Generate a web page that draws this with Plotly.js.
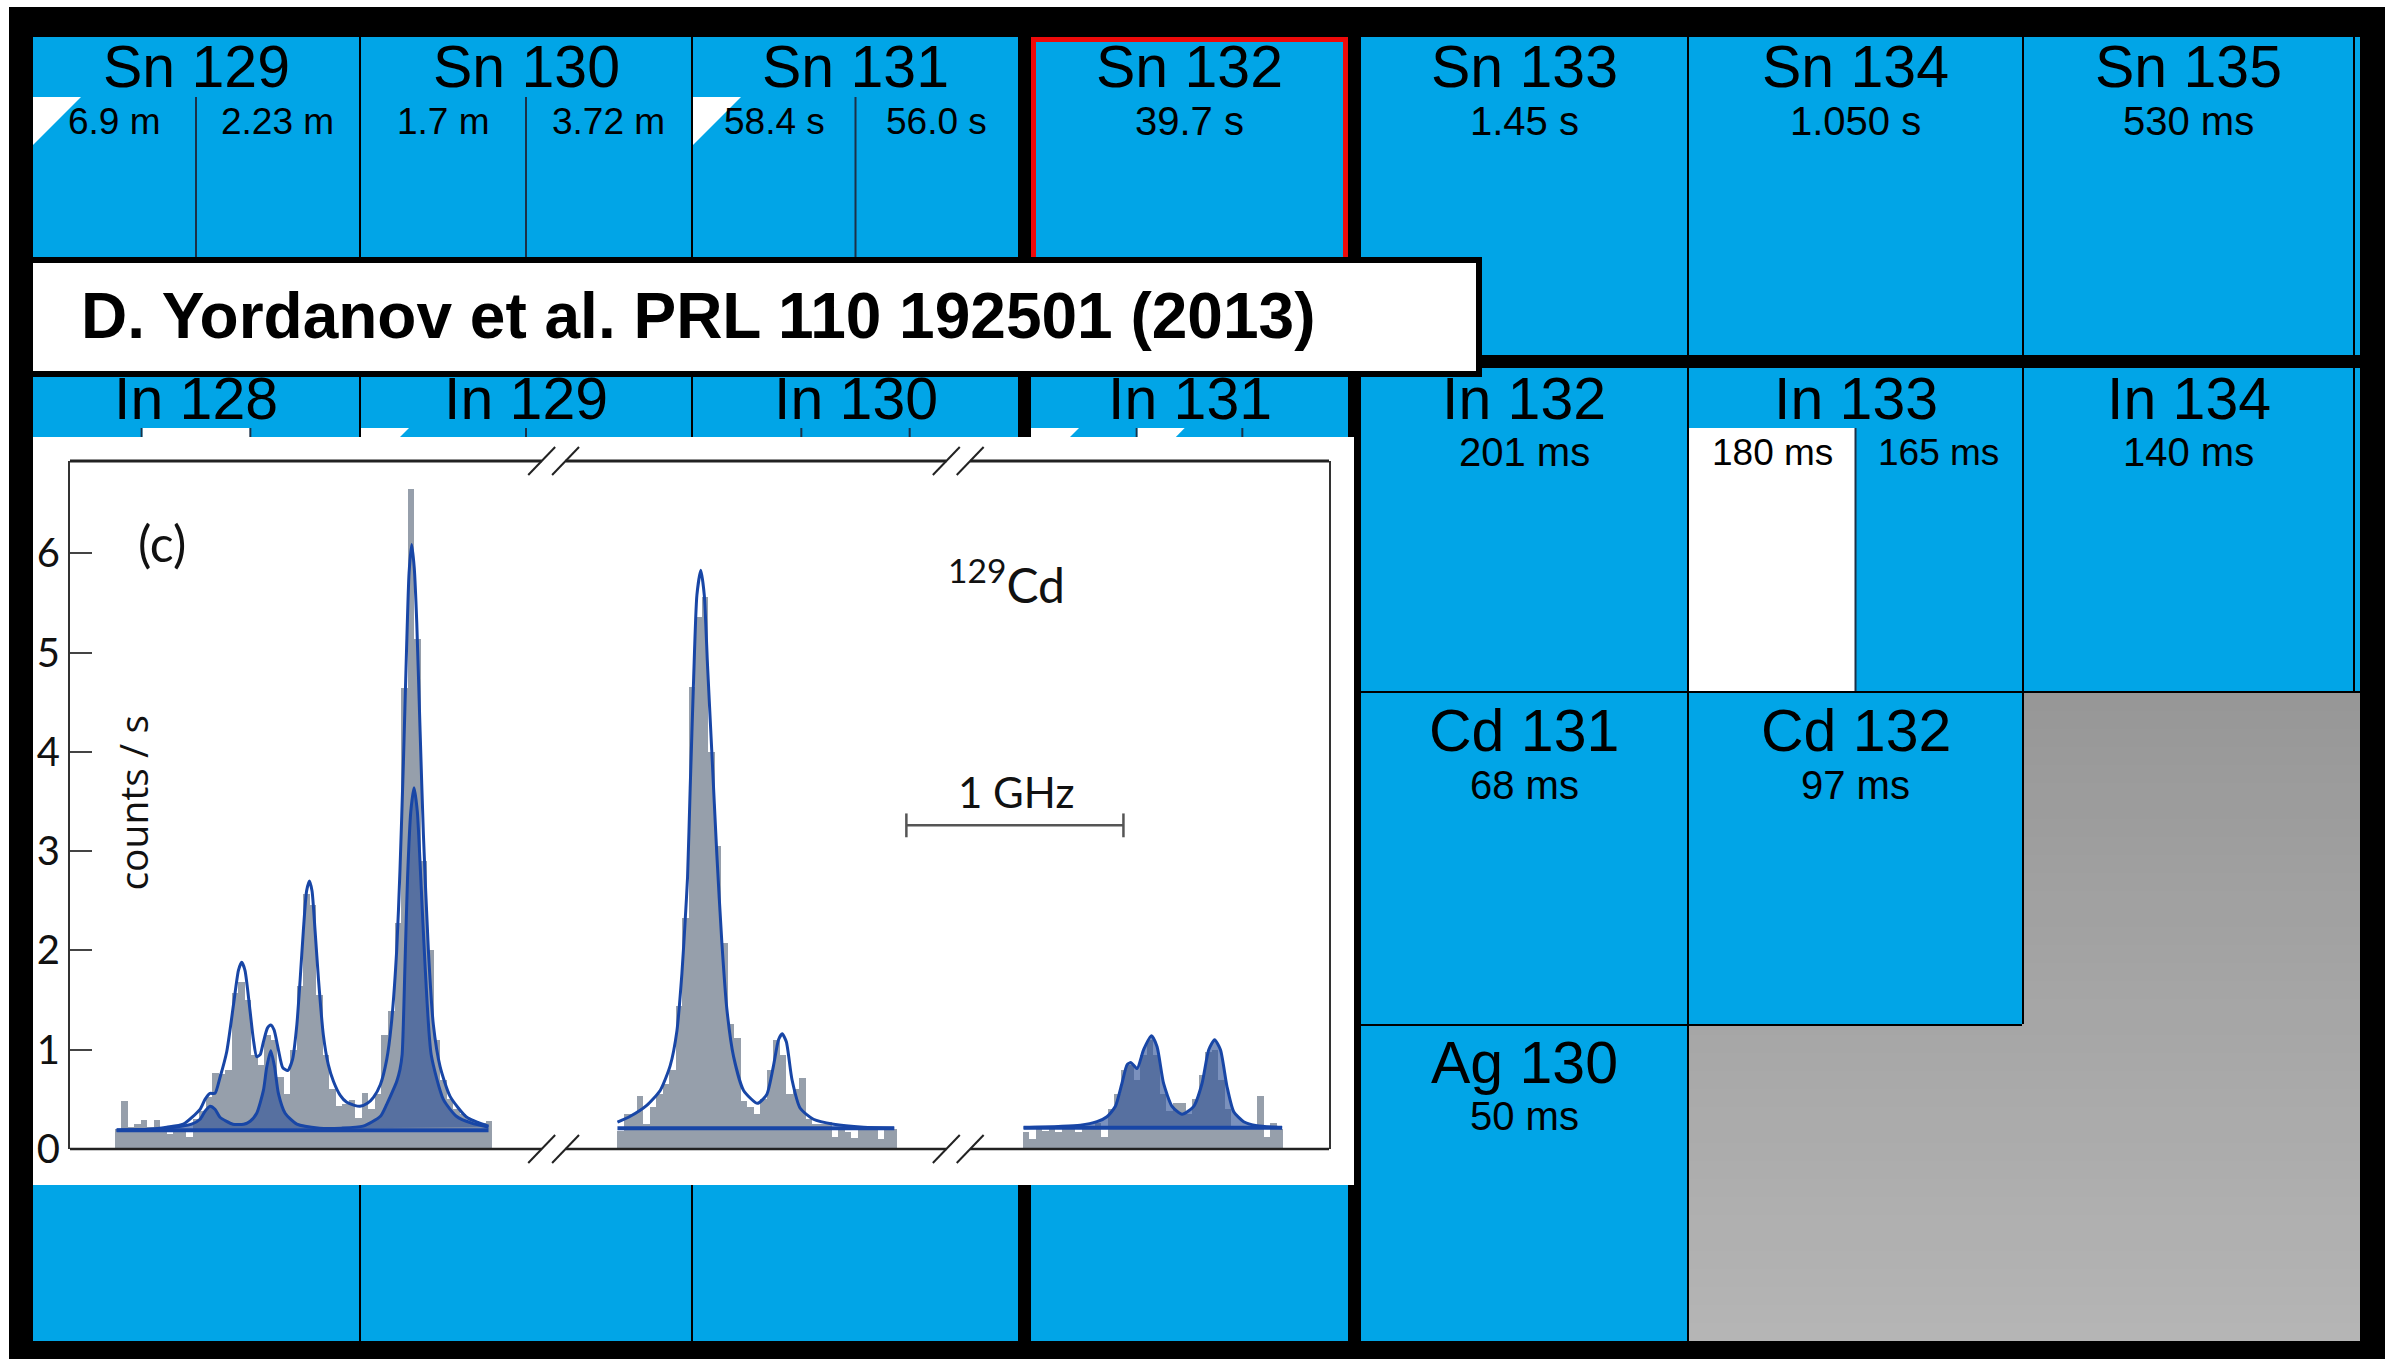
<!DOCTYPE html>
<html><head><meta charset="utf-8">
<script src="https://cdn.plot.ly/plotly-3.0.1.min.js"></script>
<style>html,body{margin:0;padding:0;background:#fff;overflow:hidden}#chart{width:2385px;height:1359px}</style>
</head><body><div id="chart"></div>
<script>
// ---------------- nuclide chart data ----------------
const nuclides  = ['Sn 129','Sn 130','Sn 131','Sn 132','Sn 133','Sn 134','Sn 135','In 128','In 129','In 130','In 131','In 132','In 133','In 134','Cd 131','Cd 132','Ag 130'];
const nuclideN  = [79,80,81,82,83,84,85, 79,80,81,82,83,84,85, 83,84, 83];
const nuclideZ  = [50,50,50,50,50,50,50, 49,49,49,49,49,49,49, 48,48, 47];
const halfLives = [['6.9 m','2.23 m'],['1.7 m','3.72 m'],['58.4 s','56.0 s'],['39.7 s'],['1.45 s'],['1.050 s'],['530 ms'],
                   [],[],[],[],['201 ms'],['180 ms','165 ms'],['140 ms'],['68 ms'],['97 ms'],['50 ms']];
const stateMarks = [['tri',''],['',''],['tri',''],[''],[''],[''],[''],
                    ['','white',''],['tri',''],['','',''],['tri','tri',''],[''],['white',''],[''],[''],[''],['']];
const highlighted = ['Sn 132'];
const unknownCells = [[48,85],[48,86],[47,84],[47,85],[47,86]]; // [Z,N]
const referenceText = 'D. Yordanov et al. PRL 110 192501 (2013)';

// ---------------- spectrum data (x in GHz, y in counts/s) ----------------
const histBinWidth = 0.03;
const histStart = [0.205, 2.52, 4.39];
const histSeg1 = [0.20,0.48,0.22,0.25,0.29,0.22,0.29,0.20,0.15,0.20,0.19,0.12,0.30,0.38,0.52,0.77,0.76,0.80,1.57,1.68,
                  1.50,0.95,0.85,1.15,1.10,0.73,0.55,1.00,1.64,2.57,2.46,1.55,0.95,0.60,0.43,0.45,0.49,0.31,0.56,0.40,
                  0.55,1.15,1.39,2.28,4.64,6.65,5.14,2.90,2.00,1.10,0.70,0.50,0.40,0.35,0.30,0.28,0.26,0.28];
const histSeg2 = [0.18,0.35,0.35,0.53,0.25,0.42,0.55,0.65,0.80,1.44,2.33,4.65,5.36,5.56,4.00,3.05,2.08,1.26,1.12,0.48,
                  0.42,0.35,0.50,0.80,1.10,0.95,0.55,0.60,0.72,0.30,0.25,0.25,0.27,0.12,0.20,0.17,0.11,0.20,0.19,0.20,
                  0.10,0.20,0.20];
const histSeg3 = [0.17,0.10,0.20,0.18,0.20,0.17,0.20,0.20,0.17,0.22,0.22,0.26,0.12,0.40,0.55,0.80,0.85,0.70,0.95,1.10,
                  0.95,0.55,0.38,0.46,0.46,0.35,0.50,0.75,0.98,1.00,0.70,0.40,0.20,0.22,0.20,0.20,0.53,0.12,0.26,0.20];

const totalX1 = [0.215,0.369,0.4455,0.522,0.599,0.622,0.645,0.668,0.691,0.722,0.753,0.776,0.791,0.806,0.829,0.845,0.860,0.876,0.891,0.910,
                 0.925,0.940,0.960,0.980,1.003,1.025,1.045,1.060,1.075,1.090,1.103,1.115,1.129,1.145,1.167,1.190,1.214,1.245,1.275,1.310,
                 1.336,1.370,1.398,1.430,1.459,1.480,1.505,1.520,1.536,1.550,1.562,1.574,1.586,1.5975,1.613,1.628,1.651,1.674,1.705,1.751,1.828,1.928];
const totalY1 = [0.19,0.20,0.22,0.25,0.40,0.50,0.56,0.56,0.72,0.98,1.45,1.80,1.88,1.80,1.40,1.10,0.93,0.95,1.08,1.22,
                 1.25,1.20,1.00,0.82,0.79,0.90,1.25,1.70,2.20,2.60,2.70,2.60,2.20,1.70,1.15,0.85,0.68,0.54,0.47,0.44,
                 0.43,0.46,0.52,0.65,0.90,1.25,2.00,2.80,3.90,5.00,5.80,6.09,5.85,5.30,4.20,3.17,2.00,1.25,0.83,0.53,0.32,0.23];
const totalX2 = [2.522,2.581,2.657,2.719,2.765,2.796,2.819,2.834,2.845,2.857,2.873,2.888,2.906,2.922,2.937,2.957,2.980,3.003,3.026,3.057,
                 3.103,3.167,3.210,3.241,3.264,3.281,3.300,3.326,3.364,3.425,3.518,3.656,3.797];
const totalY2 = [0.27,0.33,0.44,0.59,0.84,1.19,1.77,2.30,2.74,3.63,4.74,5.58,5.83,5.58,4.87,3.99,2.96,2.08,1.41,0.93,
                 0.59,0.46,0.55,0.84,1.10,1.16,1.08,0.70,0.41,0.30,0.25,0.22,0.21];
const compX1 = [0.215,0.45,0.56,0.599,0.622,0.645,0.668,0.691,0.75,0.80,0.83,0.860,0.891,0.906,0.925,0.943,0.960,0.991,1.045,1.15,
                1.25,1.35,1.43,1.459,1.49,1.505,1.52,1.53,1.543,1.555,1.57,1.585,1.60,1.616,1.636,1.664,1.72,1.78,1.85,1.928];
const compY1 = [0.19,0.21,0.25,0.30,0.38,0.43,0.40,0.32,0.25,0.25,0.28,0.36,0.59,0.82,0.99,0.82,0.56,0.36,0.25,0.21,
                0.21,0.23,0.33,0.45,0.60,0.68,0.80,0.95,1.84,2.73,3.40,3.64,3.40,2.73,1.84,0.95,0.50,0.33,0.26,0.22];
const fitX3 = [4.393,4.654,4.731,4.777,4.816,4.846,4.870,4.888,4.916,4.946,4.982,5.008,5.038,5.077,5.123,5.177,5.215,5.246,5.273,5.300,
               5.330,5.361,5.407,5.469,5.584];
const fitY3 = [0.215,0.24,0.275,0.325,0.43,0.66,0.85,0.87,0.81,1.00,1.14,1.03,0.66,0.43,0.35,0.43,0.66,1.00,1.10,1.00,
               0.63,0.376,0.275,0.235,0.215];
const baseX = [0.215,1.928,null,2.522,3.797,null,4.393,5.584];
const baseY = [0.19,0.19,null,0.21,0.21,null,0.215,0.215];
const yTicks = [0,1,2,3,4,5,6];
const axisBreaks = [2.228, 4.092];
const scaleBar = [3.853, 4.853, 3.26]; // 1 GHz bar: from, to, level

// ---------------- layout constants ----------------
const W = 2385, H = 1359;
const BLUE = '#01a5e7', LINE = '#1846a6', FILL = 'rgba(55,88,155,0.66)', GRAY = '#969fab';
const CELLFONT = '"Liberation Sans", Arial, sans-serif';
const Ns = [79,80,81,82,83,84,85,86];
const colX0 = [33,361,693,1031,1361,1689,2024,2355];
const colX1 = [359,691,1018,1348,1687,2022,2353,2360];
const Zs = [50,49,48,47];
const rowY0 = [37,368,693,1026];
const rowY1 = [355,691,1024,1341];
const nameOff = [30,31,38,37];
const hlOff = [84,84,92,90];

const shapes = [], annotations = [];
const PX = x => x / W, PY = y => 1 - y / H;
function rectPx(x0,y0,x1,y1,fill,line){ shapes.push({type:'rect',xref:'paper',yref:'paper',x0:PX(x0),x1:PX(x1),y0:PY(y1),y1:PY(y0),fillcolor:fill||'rgba(0,0,0,0)',line:line||{width:0},layer:'below'}); }
function linePx(x0,y0,x1,y1,color,width){ shapes.push({type:'line',xref:'paper',yref:'paper',x0:PX(x0),x1:PX(x1),y0:PY(y0),y1:PY(y1),line:{color:color,width:width},layer:'below'}); }
function pathPx(pts,fill){ const d = pts.map((p,i)=>(i?'L':'M')+PX(p[0]).toFixed(6)+','+PY(p[1]).toFixed(6)).join(' ')+' Z'; shapes.push({type:'path',xref:'paper',yref:'paper',path:d,fillcolor:fill,line:{width:0},layer:'below'}); }
function textPx(x,y,text,size,opts){ annotations.push(Object.assign({xref:'paper',yref:'paper',x:PX(x),y:PY(y),text:text,showarrow:false,xanchor:'center',yanchor:'middle',font:{family:CELLFONT,size:size,color:'#000'}},opts||{})); }

// frame
rectPx(9,7,W,H,'#000');
// cells
const isUnknown = (z,n) => unknownCells.some(u => u[0]===z && u[1]===n);
Zs.forEach((z,r) => Ns.forEach((n,c) => { if (!isUnknown(z,n)) rectPx(colX0[c],rowY0[r],colX1[c],rowY1[r],BLUE); }));
// unknown region with vertical grey gradient
const gTop = 693, gBot = 1341, nb = 36;
for (let k = 0; k < nb; k++) {
  const b0 = gTop + (gBot-gTop)*k/nb, b1 = gTop + (gBot-gTop)*(k+1)/nb + 0.6;
  const g = Math.round(151 + 30*(k+0.5)/nb), col = 'rgb('+g+','+g+','+g+')';
  unknownCells.forEach(u => {
    const r = Zs.indexOf(u[0]), c = Ns.indexOf(u[1]);
    const x0 = (c>0 && isUnknown(u[0],Ns[c-1])) ? colX1[c-1] : colX0[c];
    const y0 = (r>0 && isUnknown(Zs[r-1],u[1])) ? rowY1[r-1] : rowY0[r];
    const ya = Math.max(b0,y0), yb = Math.min(b1,rowY1[r]);
    if (yb > ya) rectPx(x0, ya, colX1[c], yb, col);
  });
}
// nuclide details
nuclides.forEach((name,i) => {
  const c = Ns.indexOf(nuclideN[i]), r = Zs.indexOf(nuclideZ[i]);
  const x0 = colX0[c], x1 = colX1[c], y0 = rowY0[r], y1 = rowY1[r];
  const k = stateMarks[i].length, sw = (x1-x0)/k, subTop = y0 + 60;
  stateMarks[i].forEach((m,j) => {
    const sx = x0 + j*sw;
    if (j > 0) linePx(sx, subTop, sx, y1, '#1c3147', 2);
    if (m === 'white') rectPx(sx + (j?1:0), subTop, sx + sw, y1, '#fff');
    if (m === 'tri') pathPx([[sx+(j?1:0),subTop],[sx+48,subTop],[sx+(j?1:0),subTop+48]], '#fff');
  });
  if (highlighted.includes(name)) rectPx(x0+2.5, y0+2.5, x1-2.5, y1-2.5, null, {color:'#ee0a0a', width:5});
  textPx((x0+x1)/2, y0 + nameOff[r], name, 59);
  const hl = halfLives[i];
  if (hl.length === 1) textPx((x0+x1)/2, y0 + hlOff[r], hl[0], 40);
  else hl.forEach((t,j) => textPx(x0 + (j+0.5)*((x1-x0)/hl.length), y0 + hlOff[r], t, 37));
});
// reference label box
rectPx(30,260,1479,374,'#fff',{color:'#000',width:6});
textPx(79, 316, '<b>'+referenceText+'</b>', 64, {xanchor:'left'});
// inset background
rectPx(33,437,1354,1185,'#fff');

// ---------------- spectrum axes decorations ----------------
const XMAX = 5.8, gap = 0.055, sdx = 0.062, sdy = 14/688;
const segEdges = [0, axisBreaks[0]-gap, axisBreaks[0]+gap, axisBreaks[1]-gap, axisBreaks[1]+gap, XMAX];
[0,1].forEach(yy => {
  for (let s = 0; s < 3; s++) shapes.push({type:'line',xref:'x',yref:'y domain',x0:segEdges[2*s],x1:segEdges[2*s+1],y0:yy,y1:yy,line:{color:'#222',width:yy?3:2.5},layer:'above'});
  axisBreaks.forEach(b => [-gap, gap].forEach(o => shapes.push({type:'line',xref:'x',yref:'y domain',x0:b+o-sdx,x1:b+o+sdx,y0:yy-sdy,y1:yy+sdy,line:{color:'#222',width:2},layer:'above'})));
});
shapes.push({type:'line',xref:'x',yref:'y',x0:scaleBar[0],x1:scaleBar[1],y0:scaleBar[2],y1:scaleBar[2],line:{color:'#555',width:2.5},layer:'above'});
[scaleBar[0],scaleBar[1]].forEach(xb => shapes.push({type:'line',xref:'x',yref:'y',x0:xb,x1:xb,y0:scaleBar[2]-0.12,y1:scaleBar[2]+0.12,line:{color:'#555',width:2.5},layer:'above'}));

const LFONT = 'Lato, "Open Sans", sans-serif';
annotations.push({xref:'x',yref:'y',x:0.424,y:6.10,text:'(c)',showarrow:false,font:{family:LFONT,size:50,color:'#111'}});
annotations.push({xref:'x',yref:'y',x:4.313,y:5.72,text:'<sup>129</sup>Cd',showarrow:false,font:{family:LFONT,size:48,color:'#111'}});
annotations.push({xref:'x',yref:'y',x:4.36,y:3.60,text:'1 GHz',showarrow:false,font:{family:LFONT,size:42,color:'#111'}});
annotations.push({xref:'x',yref:'y',x:0.286,y:3.49,text:'counts / s',textangle:-90,showarrow:false,font:{family:'"Open Sans", sans-serif',size:39,color:'#111'}});

// ---------------- traces ----------------
const barX = [], barY = [];
[histSeg1, histSeg2, histSeg3].forEach((seg,s) => seg.forEach((v,i) => { barX.push(histStart[s] + histBinWidth*(i+0.5)); barY.push(v); }));
const spl = {color:LINE, width:3, shape:'spline', smoothing:0.6};
const traces = [
  {type:'bar', x:barX, y:barY, width:histBinWidth, marker:{color:GRAY, line:{width:0}}, hoverinfo:'skip'},
  {type:'scatter', mode:'lines', x:compX1, y:compY1, fill:'toself', fillcolor:FILL, line:spl, hoverinfo:'skip'},
  {type:'scatter', mode:'lines', x:fitX3, y:fitY3, fill:'toself', fillcolor:FILL, line:spl, hoverinfo:'skip'},
  {type:'scatter', mode:'lines', x:totalX1.concat([null], totalX2), y:totalY1.concat([null], totalY2), connectgaps:false, line:spl, hoverinfo:'skip'},
  {type:'scatter', mode:'lines', x:baseX, y:baseY, connectgaps:false, line:{color:LINE, width:4}, hoverinfo:'skip'}
];

const layout = {
  width:W, height:H, margin:{l:0,r:0,t:0,b:0,pad:0},
  paper_bgcolor:'#fff', plot_bgcolor:'rgba(0,0,0,0)', showlegend:false, bargap:0,
  xaxis:{domain:[70/W,1329/W], range:[0,XMAX], showline:false, showticklabels:false, ticks:'', showgrid:false, zeroline:false, fixedrange:true},
  yaxis:{domain:[1-1149/H,1-461/H], range:[0,6.93], showline:true, linecolor:'#333', linewidth:2, mirror:true,
         ticks:'inside', ticklen:22, tickwidth:2, tickcolor:'#444', tickvals:yTicks, ticktext:yTicks.map(String),
         tickfont:{family:LFONT, size:40, color:'#111'}, ticklabelstandoff:0, showgrid:false, zeroline:false, fixedrange:true},
  shapes:shapes, annotations:annotations
};
Plotly.newPlot('chart', traces, layout, {displayModeBar:false, staticPlot:true});
</script></body></html>
